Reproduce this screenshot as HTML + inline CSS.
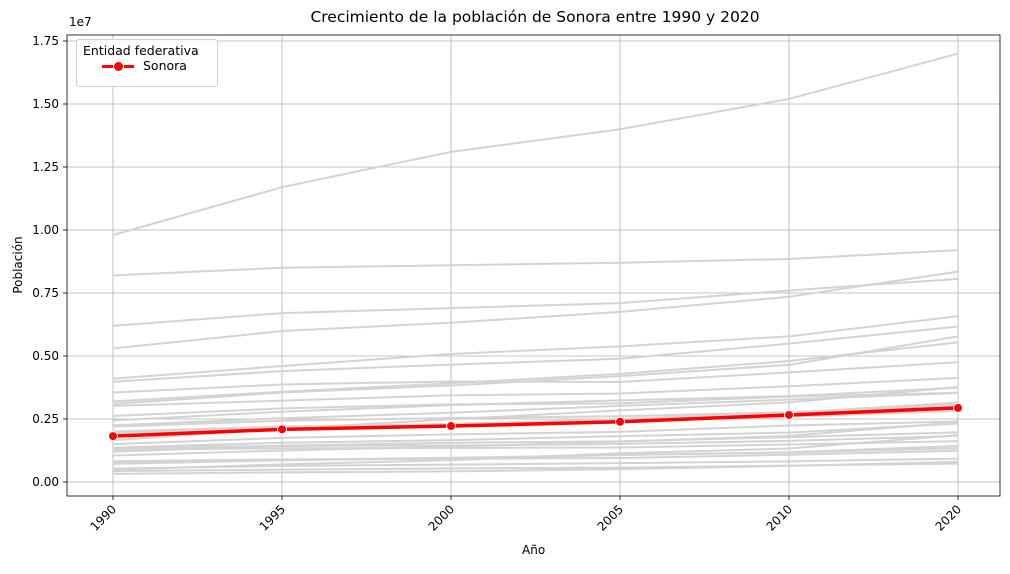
<!DOCTYPE html>
<html><head><meta charset="utf-8"><style>
body{margin:0;background:#fff;font-family:"Liberation Sans","DejaVu Sans",sans-serif;}
</style></head><body>
<svg id="chart" width="1010" height="569" xmlns="http://www.w3.org/2000/svg" font-family="'DejaVu Sans','Liberation Sans',sans-serif"></svg>
<script>
const years=[1990,1995,2000,2005,2010,2020];
const sonora=[1.82,2.09,2.22,2.39,2.66,2.94];
const others=[
[9.8,11.7,13.1,14.0,15.2,17.0],[8.2,8.5,8.6,8.7,8.85,9.2],[6.2,6.7,6.9,7.1,7.6,8.06],
[5.3,5.99,6.32,6.75,7.35,8.35],[4.1,4.6,5.08,5.38,5.78,6.58],[3.98,4.4,4.66,4.89,5.49,6.17],
[3.1,3.55,3.83,4.2,4.65,5.78],[3.2,3.58,3.92,4.29,4.8,5.54],[3.55,3.87,3.99,3.97,4.35,4.75],
[3.02,3.23,3.44,3.51,3.8,4.13],[2.44,2.79,3.05,3.24,3.41,3.74],[2.62,2.92,3.08,3.12,3.39,3.54],
[2.25,2.53,2.75,3.02,3.27,3.53],[1.66,2.11,2.49,2.84,3.16,3.77],[2.2,2.43,2.54,2.61,2.77,3.03],
[1.97,2.17,2.3,2.5,2.75,3.15],[1.89,2.11,2.24,2.35,2.67,3.08],[2.0,2.2,2.3,2.41,2.59,2.82],
[1.5,1.75,1.89,1.99,2.24,2.4],[1.36,1.56,1.66,1.82,1.96,2.32],[0.49,0.7,0.87,1.14,1.33,1.86],
[1.05,1.25,1.4,1.6,1.83,2.37],[1.2,1.44,1.56,1.61,1.78,1.97],[1.35,1.43,1.45,1.51,1.63,1.83],
[1.28,1.34,1.35,1.37,1.49,1.62],[0.72,0.86,0.94,1.07,1.18,1.43],[0.76,0.88,0.96,1.07,1.17,1.34],
[0.82,0.9,0.92,0.95,1.08,1.24],[0.53,0.64,0.69,0.75,0.82,0.93],[0.43,0.49,0.54,0.57,0.65,0.73],
[0.32,0.38,0.42,0.51,0.64,0.8]];
const yTicks=[0,2.5,5,7.5,10,12.5,15,17.5];
const yTickLabels=["0.00","0.25","0.50","0.75","1.00","1.25","1.50","1.75"];
const X=i=>113+i*(845/(years.length-1));
const Y=v=>482-v/2.5*63;
const svg=document.getElementById('chart');
const NS='http://www.w3.org/2000/svg';
function mk(t,a,p){const e=document.createElementNS(NS,t);for(const k in a)e.setAttribute(k,a[k]);(p||svg).appendChild(e);return e;}
yTicks.forEach((v,i)=>{
 const g=mk('line',{x1:67,x2:1000,y1:Y(v),y2:Y(v),stroke:'#b0b0b0','stroke-width':0.8});
 
 
 mk('line',{x1:63,x2:67,y1:Y(v),y2:Y(v),stroke:'#000','stroke-width':0.8});
 const t=mk('text',{x:59,y:Y(v)+4,'text-anchor':'end','font-size':12});t.textContent=yTickLabels[i];
 
 
});
years.forEach((yr,i)=>{
 const g=mk('line',{x1:X(i),x2:X(i),y1:35,y2:496,stroke:'#b0b0b0','stroke-width':0.8});
 
 
 mk('line',{x1:X(i),x2:X(i),y1:496,y2:500,stroke:'#000','stroke-width':0.8});
 const t=mk('text',{x:X(i)+4,y:510,'text-anchor':'end','font-size':12,transform:`rotate(-45 ${X(i)+4} 510)`});t.textContent=yr;
 
 
});
others.forEach(s=>{
 const p=mk('polyline',{points:s.map((v,i)=>X(i)+','+Y(v)).join(' '),fill:'none',stroke:'#d3d3d3','stroke-width':2});
 
 
});
const sl=mk('polyline',{points:sonora.map((v,i)=>X(i)+','+Y(v)).join(' '),fill:'none',stroke:'#ff0000','stroke-width':3.5});


sonora.forEach((v,i)=>{
 const c=mk('circle',{cx:X(i),cy:Y(v),r:4.5,fill:'#ff0000',stroke:'#fff','stroke-width':1});
 
 
});
const fr=mk('rect',{x:67,y:35,width:933,height:461,fill:'none',stroke:'#000','stroke-width':0.8});


</script>
<div style="position:absolute;left:0;top:0;width:1010px;height:569px;pointer-events:none;font-family:'DejaVu Sans','Liberation Sans',sans-serif;">
 <div style="position:absolute;left:0;width:1070px;top:8px;text-align:center;font-size:15.5px;">Crecimiento de la población de Sonora entre 1990 y 2020</div>
 <div style="position:absolute;left:69px;top:15px;font-size:12px;">1e7</div>
 <div style="position:absolute;left:522px;top:543px;font-size:12px;">Año</div>
 <div style="position:absolute;left:-17px;top:258px;font-size:12px;transform:rotate(-90deg);width:70px;text-align:center;">Población</div>
 <div style="position:absolute;left:76px;top:39px;width:140px;height:46px;border:1px solid #d0d0d0;border-radius:3px;background:rgba(255,255,255,0.85);font-size:12.5px;">
  <div style="position:absolute;left:6px;top:3px;">Entidad federativa</div>
  <div style="position:absolute;left:25px;top:25px;width:32px;height:3px;background:#f00;"></div>
  <div style="position:absolute;left:36px;top:21px;width:9px;height:9px;border-radius:50%;background:#f00;border:1px solid #fff;"></div>
  <div style="position:absolute;left:66px;top:18px;">Sonora</div>
 </div>
</div>
</body></html>
